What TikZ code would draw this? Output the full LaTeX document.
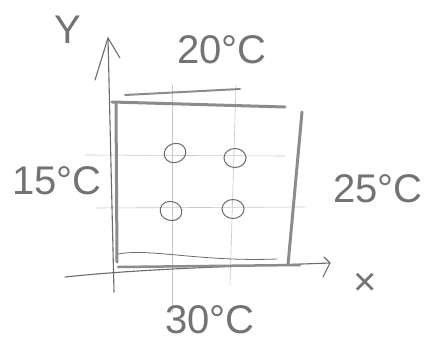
\documentclass[tikz,border=0pt]{standalone}
\usepackage{fontspec}
\setmainfont{Liberation Sans}
\usetikzlibrary{shapes.geometric}
\begin{document}
\begin{tikzpicture}[x=1pt,y=-1pt,
  pencil/.style={draw=black!58,line width=1.1pt,line cap=round,line join=round},
  heavy/.style={draw=black!45,line width=3pt,line cap=round},
  gridline/.style={draw=black!22,line width=0.6pt},
  hole/.style={draw=black!58,line width=1pt,ellipse,minimum width=22pt,minimum height=19pt,inner sep=0pt},
  lbl/.style={text=black!55,font=\fontsize{40}{42}\selectfont,inner sep=0pt}]
\useasboundingbox[fill=white] (0,0) rectangle (435,344);
% grid
\draw[gridline] (172,85) -- (172,312);
\draw[gridline] (236,85) -- (230,285);
\draw[gridline] (85,155) -- (285,156);
\draw[gridline] (95,208) -- (305,207);
% axes
\coordinate (yb) at (114,292);
\coordinate (yt) at (108,38);
\draw[pencil] (yb) -- (yt);
\draw[pencil] (95,80) -- (yt) -- (120,58);
\coordinate (xl) at (65,277);
\coordinate (xr) at (330,263);
\draw[pencil] (xl) .. controls (150,268) and (250,266) .. (xr);
\draw[pencil] (324,257) -- (xr) -- (323,277);
% box
\draw[heavy] (112,102) -- (285,107);
\draw[heavy,line width=2pt] (125,95) -- (240,89);
\draw[heavy] (116,104) -- (117,262);
\draw[heavy] (302,112) -- (288,265);
\draw[heavy,line width=2.5pt] (118,267) -- (300,265);
\draw[pencil,line width=0.8pt] (118,254) .. controls (150,248) and (200,262) .. (277,259);
% holes
\node[hole,rotate=20] (h1) at (175,153) {};
\node[hole] (h2) at (235,158) {};
\node[hole,rotate=-15] (h3) at (171,211) {};
\node[hole] (h4) at (233,209) {};
% labels
\node[lbl] (ly) at (68,30) {Y};
\node[lbl] (lx) at (365,284) {×};
\node[lbl] (t20) at (222,50) {20°C};
\node[lbl] (t15) at (57,181) {15°C};
\node[lbl] (t25) at (378,189) {25°C};
\node[lbl] (t30) at (210,320) {30°C};
\end{tikzpicture}
\end{document}
